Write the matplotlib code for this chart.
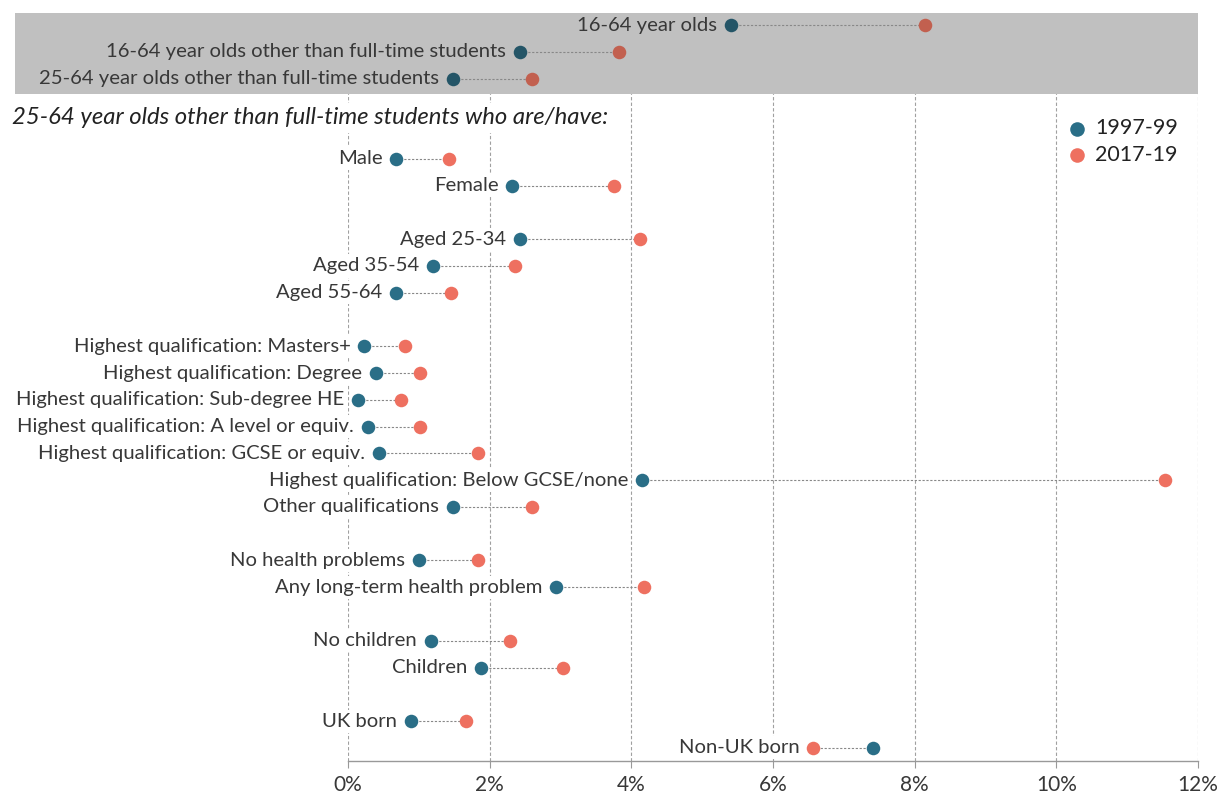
import matplotlib
matplotlib.use("Agg")
import matplotlib.pyplot as plt
from matplotlib.patches import Rectangle
from matplotlib.ticker import FuncFormatter

plt.rcParams['font.family'] = ['Lato', 'DejaVu Sans']

categories = [
    "16-64 year olds",
    "16-64 year olds other than full-time students",
    "25-64 year olds other than full-time students",
    "Male", "Female",
    "Aged 25-34", "Aged 35-54", "Aged 55-64",
    "Highest qualification: Masters+",
    "Highest qualification: Degree",
    "Highest qualification: Sub-degree HE",
    "Highest qualification: A level or equiv.",
    "Highest qualification: GCSE or equiv.",
    "Highest qualification: Below GCSE/none",
    "Other qualifications",
    "No health problems", "Any long-term health problem",
    "No children", "Children",
    "UK born", "Non-UK born",
]
v1997 = [5.41, 2.43, 1.48, 0.68, 2.32, 2.43, 1.20, 0.68, 0.23, 0.40, 0.14, 0.28,
         0.44, 4.15, 1.48, 1.00, 2.94, 1.17, 1.88, 0.89, 7.41]
v2017 = [8.15, 3.83, 2.60, 1.43, 3.76, 4.12, 2.36, 1.45, 0.80, 1.02, 0.75, 1.02,
         1.84, 11.53, 2.60, 1.84, 4.18, 2.29, 3.04, 1.67, 6.57]
rows = [0, 1, 2, 5, 6, 8, 9, 10, 12, 13, 14, 15, 16, 17, 18, 20, 21, 23, 24, 26, 27]
series_names = ["1997-99", "2017-19"]
subtitle = "25-64 year olds other than full-time students who are/have:"
xticks = [0, 2, 4, 6, 8, 10, 12]

TEAL = "#2a6e87"
SALMON = "#ee7060"
TEAL_B = "#245567"
SALMON_B = "#c2604f"
BAND = "#c0c0c0"
TXT = "#383838"

fig = plt.figure(figsize=(12.24, 7.99), dpi=100)
W, H = 1224, 799
ax = fig.add_axes([348 / W, (H - 761) / H, (1198 - 348) / W, (761 - 13) / H])
ax.set_xlim(0, 12)
ax.set_ylim(27.49, -0.45)

for s in ["top", "right", "left"]:
    ax.spines[s].set_visible(False)
ax.spines["bottom"].set_color("#999999")
ax.spines["bottom"].set_linewidth(1.0)
ax.set_yticks([])
ax.set_xticks(xticks)
ax.xaxis.set_major_formatter(FuncFormatter(lambda v, p: f"{v:g}%"))
ax.tick_params(axis="x", length=5, color="#999999", labelsize=15, labelcolor=TXT, pad=5)
for x in xticks:
    ax.axvline(x, color="#a0a0a0", lw=0.8, ls=(0, (3, 2)), zorder=0)

# grey band for the top three rows
px = 70.83
x0 = (15 - 348) / px
band = Rectangle((x0, -0.45), 12 - x0, 3.03, facecolor=BAND, edgecolor="none",
                 clip_on=False, zorder=0.5)
ax.add_patch(band)

for i, (cat, a, b, r) in enumerate(zip(categories, v1997, v2017, rows)):
    inband = r <= 2
    ca = TEAL_B if inband else TEAL
    cb = SALMON_B if inband else SALMON
    ax.plot([a, b], [r, r], color="#888888", lw=0.8, ls=(0, (2, 1.5)), zorder=2)
    ax.scatter([a], [r], s=95, color=ca, zorder=3, linewidths=0)
    ax.scatter([b], [r], s=95, color=cb, zorder=3, linewidths=0)
    ax.annotate(cat, xy=(min(a, b), r), xytext=(-10, 0), textcoords="offset points",
                ha="right", va="center", fontsize=14.6, color=TXT, zorder=4,
                annotation_clip=False,
                bbox=dict(boxstyle="square,pad=0.15", fc=BAND if inband else "white", ec="none"))

fig.text(12 / W, 1 - 118 / H, subtitle, fontsize=17.2, style="italic", color="#222222",
         ha="left", va="center",
         bbox=dict(boxstyle="square,pad=0.2", fc="white", ec="none"), zorder=5)

# legend
ax.scatter([], [], s=110, color=TEAL, label=series_names[0], linewidths=0)
ax.scatter([], [], s=110, color=SALMON, label=series_names[1], linewidths=0)
leg = ax.legend(loc="upper right", bbox_to_anchor=(0.997, 0.882), frameon=True,
                facecolor="white", edgecolor="none", framealpha=1, fontsize=15.5,
                handlelength=1.0, handletextpad=0.35, labelspacing=0.3, borderpad=0.3)
for t in leg.get_texts():
    t.set_color("#222222")

fig.savefig("out.png", dpi=100)
